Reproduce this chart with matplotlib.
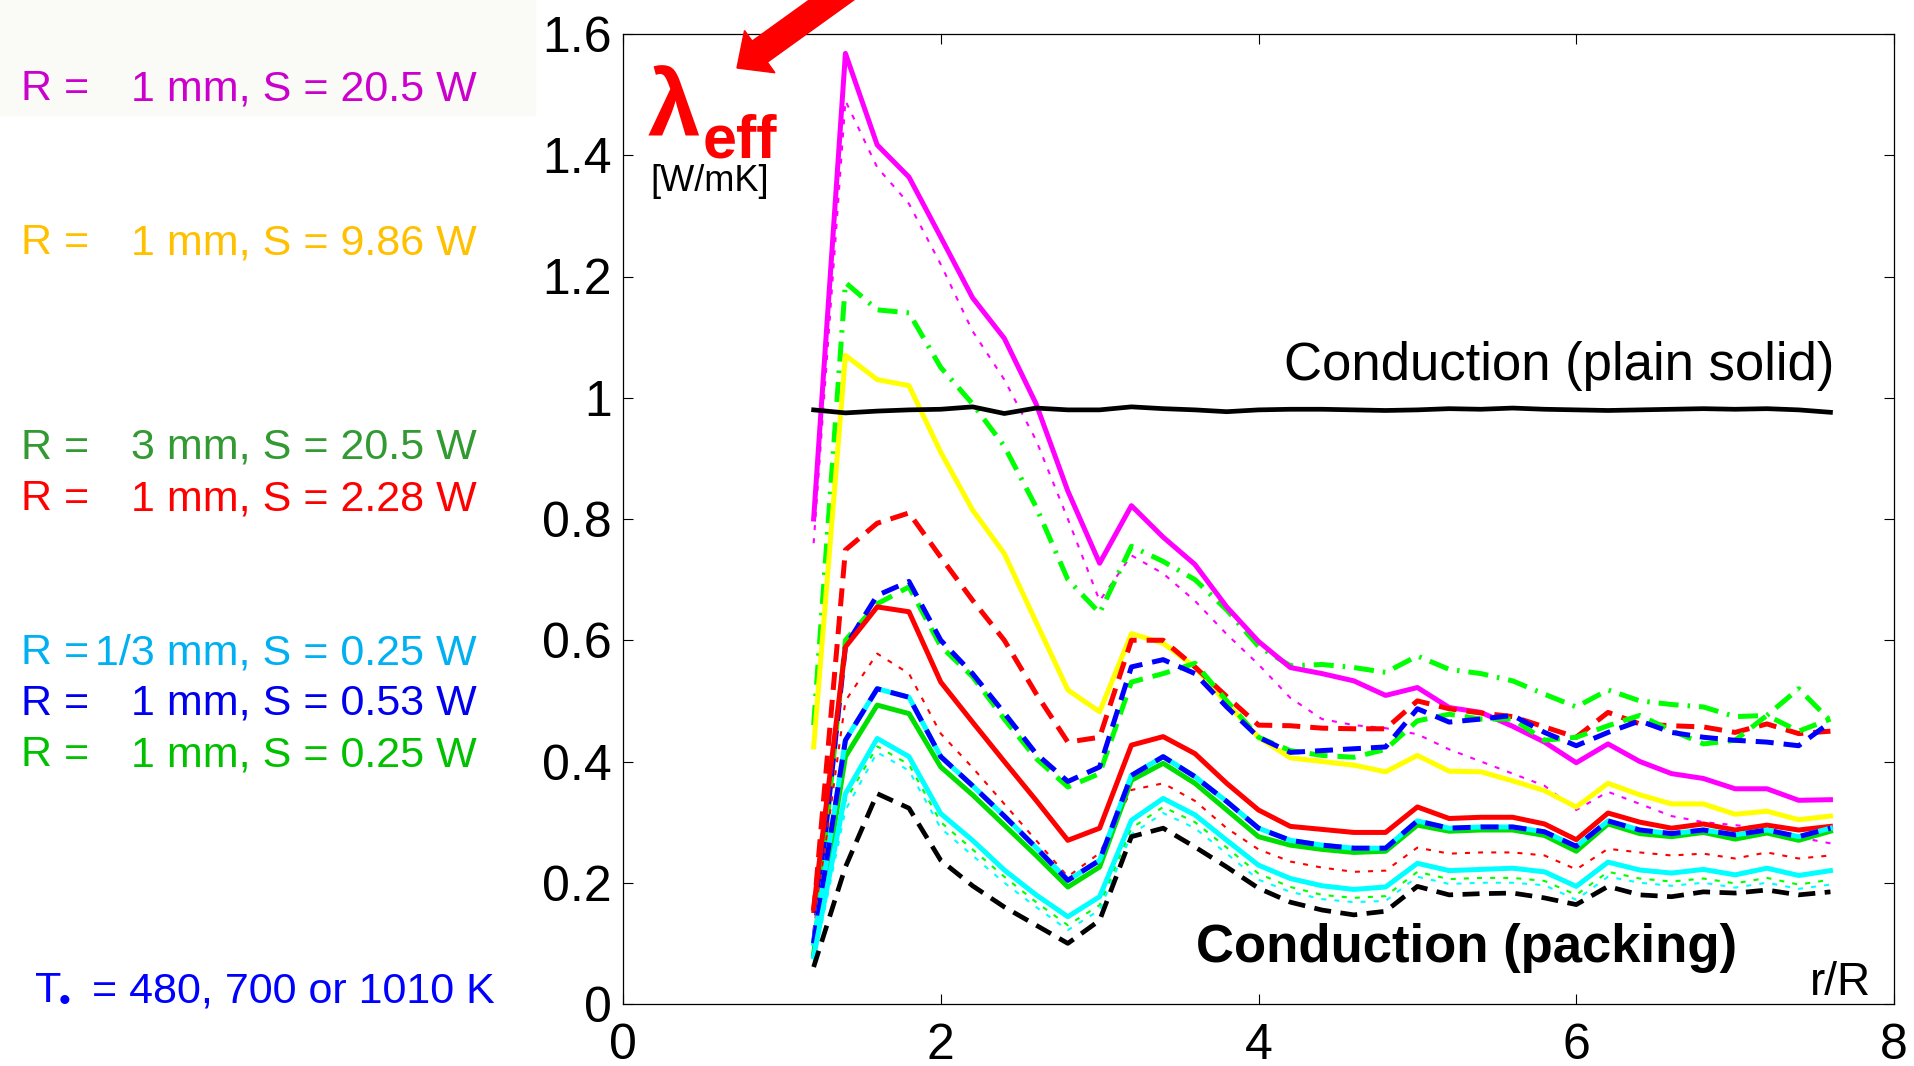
import matplotlib
matplotlib.use('Agg')
import matplotlib.pyplot as plt
from matplotlib.patches import FancyArrow, Rectangle
from matplotlib.transforms import IdentityTransform

plt.rcParams['font.family'] = ['Liberation Sans', 'DejaVu Sans']

W, H = 1915, 1066

# r/R positions of the profile points
r_R = [1.2, 1.4, 1.6, 1.8, 2.0, 2.2, 2.4, 2.6, 2.8, 3.0, 3.2, 3.4, 3.6, 3.8, 4.0, 4.2, 4.4,
       4.6, 4.8, 5.0, 5.2, 5.4, 5.6, 5.8, 6.0, 6.2, 6.4, 6.6, 6.8, 7.0, 7.2, 7.4, 7.6]

plain_solid = [0.980, 0.975, 0.978, 0.980, 0.981, 0.985, 0.974, 0.983, 0.980, 0.980, 0.985, 0.982, 0.980,
               0.977, 0.980, 0.981, 0.981, 0.980, 0.979, 0.980, 0.982, 0.981, 0.983, 0.981, 0.980, 0.979,
               0.980, 0.981, 0.982, 0.981, 0.982, 0.980, 0.976]
magenta_solid = [0.80, 1.568, 1.417, 1.364, 1.265, 1.165, 1.098, 0.99, 0.846, 0.727, 0.822, 0.77, 0.725,
                 0.655, 0.598, 0.555, 0.545, 0.533, 0.509, 0.522, 0.489, 0.481, 0.458, 0.432, 0.398, 0.429,
                 0.40, 0.38, 0.372, 0.355, 0.355, 0.336, 0.337]
magenta_dot = [0.76, 1.49, 1.38, 1.32, 1.22, 1.11, 1.03, 0.93, 0.80, 0.665, 0.74, 0.71, 0.665, 0.61, 0.56,
               0.505, 0.47, 0.46, 0.455, 0.445, 0.42, 0.40, 0.38, 0.36, 0.32, 0.35, 0.33, 0.31, 0.30, 0.295,
               0.29, 0.275, 0.265]
yellow_solid = [0.424, 1.07, 1.03, 1.02, 0.91, 0.815, 0.743, 0.63, 0.518, 0.482, 0.611, 0.595, 0.556, 0.496,
                0.44, 0.406, 0.40, 0.394, 0.383, 0.41, 0.384, 0.383, 0.368, 0.352, 0.325, 0.364, 0.345, 0.33,
                0.33, 0.313, 0.318, 0.304, 0.31]
green_dashdot = [0.46, 1.19, 1.145, 1.14, 1.05, 0.99, 0.92, 0.82, 0.70, 0.645, 0.755, 0.73, 0.70, 0.65, 0.59,
                 0.558, 0.56, 0.555, 0.547, 0.574, 0.552, 0.545, 0.533, 0.511, 0.49, 0.518, 0.50, 0.494, 0.49,
                 0.474, 0.476, 0.52, 0.467]
red_dash = [0.15, 0.749, 0.793, 0.81, 0.737, 0.666, 0.60, 0.512, 0.432, 0.44, 0.60, 0.60, 0.556, 0.507, 0.46,
            0.459, 0.455, 0.454, 0.454, 0.50, 0.487, 0.48, 0.474, 0.457, 0.44, 0.481, 0.462, 0.459, 0.457,
            0.448, 0.462, 0.446, 0.45]
blue_dash_hi = [0.10, 0.59, 0.674, 0.697, 0.60, 0.545, 0.48, 0.413, 0.367, 0.391, 0.556, 0.568, 0.545, 0.49,
                0.44, 0.415, 0.418, 0.421, 0.424, 0.487, 0.465, 0.47, 0.476, 0.448, 0.426, 0.448, 0.467, 0.448,
                0.44, 0.435, 0.432, 0.426, 0.465]
green_dash_hi = [0.08, 0.60, 0.66, 0.688, 0.59, 0.54, 0.47, 0.405, 0.358, 0.38, 0.531, 0.545, 0.562, 0.50,
                 0.44, 0.418, 0.41, 0.407, 0.42, 0.467, 0.478, 0.47, 0.47, 0.435, 0.44, 0.459, 0.476, 0.451,
                 0.429, 0.435, 0.476, 0.45, 0.47]
red_solid = [0.158, 0.589, 0.655, 0.647, 0.531, 0.465, 0.40, 0.336, 0.27, 0.29, 0.427, 0.441, 0.413, 0.364,
             0.32, 0.293, 0.288, 0.283, 0.283, 0.325, 0.306, 0.308, 0.308, 0.297, 0.271, 0.315, 0.30, 0.29,
             0.297, 0.287, 0.295, 0.287, 0.293]
red_dot = [0.12, 0.50, 0.578, 0.545, 0.446, 0.39, 0.33, 0.27, 0.21, 0.249, 0.353, 0.364, 0.335, 0.29, 0.255,
           0.235, 0.225, 0.218, 0.22, 0.258, 0.248, 0.25, 0.25, 0.245, 0.222, 0.256, 0.25, 0.245, 0.248, 0.24,
           0.25, 0.24, 0.245]
green_solid = [0.08, 0.408, 0.493, 0.479, 0.391, 0.345, 0.295, 0.245, 0.193, 0.226, 0.369, 0.397, 0.364, 0.32,
               0.276, 0.262, 0.255, 0.25, 0.252, 0.295, 0.285, 0.287, 0.287, 0.278, 0.252, 0.297, 0.281, 0.276,
               0.283, 0.272, 0.282, 0.27, 0.285]
cyan_solid_hi = [0.10, 0.435, 0.52, 0.506, 0.408, 0.36, 0.31, 0.258, 0.204, 0.237, 0.377, 0.408, 0.375, 0.334,
                 0.29, 0.27, 0.262, 0.257, 0.257, 0.302, 0.29, 0.292, 0.292, 0.284, 0.26, 0.302, 0.287, 0.281,
                 0.287, 0.279, 0.287, 0.276, 0.29]
blue_dash_lo = [0.10, 0.435, 0.52, 0.506, 0.408, 0.36, 0.31, 0.258, 0.204, 0.237, 0.377, 0.408, 0.375, 0.334,
                0.29, 0.27, 0.262, 0.257, 0.257, 0.302, 0.29, 0.292, 0.292, 0.284, 0.26, 0.302, 0.287, 0.281,
                0.287, 0.279, 0.287, 0.276, 0.29]
cyan_solid_lo = [0.078, 0.347, 0.438, 0.408, 0.314, 0.27, 0.221, 0.18, 0.144, 0.177, 0.303, 0.339, 0.312, 0.27,
                 0.229, 0.207, 0.195, 0.189, 0.193, 0.232, 0.22, 0.222, 0.224, 0.218, 0.194, 0.234, 0.221, 0.216,
                 0.222, 0.213, 0.224, 0.212, 0.22]
cyan_dot = [0.07, 0.32, 0.415, 0.385, 0.29, 0.245, 0.20, 0.16, 0.122, 0.155, 0.28, 0.315, 0.29, 0.248, 0.205,
            0.185, 0.173, 0.168, 0.17, 0.21, 0.198, 0.20, 0.20, 0.196, 0.172, 0.21, 0.20, 0.195, 0.20, 0.192,
            0.20, 0.19, 0.197]
green_dot = [0.075, 0.335, 0.425, 0.395, 0.30, 0.255, 0.21, 0.168, 0.13, 0.163, 0.29, 0.325, 0.30, 0.258,
             0.215, 0.193, 0.18, 0.175, 0.178, 0.218, 0.206, 0.208, 0.208, 0.203, 0.18, 0.218, 0.207, 0.202,
             0.207, 0.199, 0.208, 0.197, 0.205]
black_dash = [0.061, 0.226, 0.347, 0.323, 0.237, 0.195, 0.16, 0.13, 0.10, 0.138, 0.276, 0.29, 0.259, 0.226,
              0.191, 0.168, 0.155, 0.147, 0.153, 0.194, 0.18, 0.182, 0.183, 0.175, 0.164, 0.194, 0.18, 0.177,
              0.185, 0.183, 0.188, 0.18, 0.185]

legend_left = ['R =', 'R =', 'R =', 'R =', 'R =', 'R =', 'R =']
legend_right = ['1 mm, S = 20.5 W', '1 mm, S = 9.86 W', '3 mm, S = 20.5 W', '1 mm, S = 2.28 W',
                '1/3 mm, S = 0.25 W', '1 mm, S = 0.53 W', '1 mm, S = 0.25 W']
legend_colors = ['#CC00CC', '#FFC000', '#339933', '#FF0000', '#00B0F0', '#0000EE', '#00C000']
legend_base = [100, 254, 459, 510, 664, 715, 766]

xticks = [0, 2, 4, 6, 8]
yticks = [0, 0.2, 0.4, 0.6, 0.8, 1.0, 1.2, 1.4, 1.6]
ytick_labels = ['0', '0.2', '0.4', '0.6', '0.8', '1', '1.2', '1.4', '1.6']

DOT = (0, (2.4, 3.9))
DASH = (0, (3.6, 2.0))
DASHDOT = (0, (4.0, 1.8, 0.5, 1.8))

fig = plt.figure(figsize=(W / 100, H / 100), dpi=100)
fig.patches.append(Rectangle((0, 1 - 115 / H), 535 / W, 115 / H, transform=fig.transFigure,
                             color='#fafaf7', zorder=0))

ax = fig.add_axes([623 / W, 62 / H, 1271 / W, 970 / H])

# upper group
ax.plot(r_R, magenta_dot, color='#FF00FF', lw=1.5, ls=DOT)
ax.plot(r_R, green_dashdot, color='#00FF00', lw=3.6, ls=DASHDOT)
ax.plot(r_R, yellow_solid, color='#FFFF00', lw=3.6)
ax.plot(r_R, magenta_solid, color='#FF00FF', lw=3.6)
ax.plot(r_R, red_dash, color='#FF0000', lw=3.6, ls=DASH)
ax.plot(r_R, green_dash_hi, color='#00FF00', lw=3.6, ls=DASH)
ax.plot(r_R, blue_dash_hi, color='#0000FF', lw=3.6, ls=DASH)
# lower group
ax.plot(r_R, red_solid, color='#FF0000', lw=3.6)
ax.plot(r_R, red_dot, color='#FF0000', lw=1.5, ls=DOT)
ax.plot(r_R, green_solid, color='#00E000', lw=3.6)
ax.plot(r_R, cyan_solid_hi, color='#00FFFF', lw=3.6)
ax.plot(r_R, blue_dash_lo, color='#0000FF', lw=3.6, ls=DASH)
ax.plot(r_R, green_dot, color='#00FF00', lw=1.5, ls=DOT)
ax.plot(r_R, cyan_dot, color='#00FFFF', lw=1.5, ls=DOT)
ax.plot(r_R, cyan_solid_lo, color='#00FFFF', lw=3.6)
ax.plot(r_R, black_dash, color='black', lw=3.4, ls=DASH)
ax.plot(r_R, plain_solid, color='black', lw=3.4)

ax.set_xlim(0, 8)
ax.set_ylim(0, 1.6)
ax.set_xticks(xticks)
ax.set_xticklabels([str(t) for t in xticks])
ax.set_yticks(yticks)
ax.set_yticklabels(ytick_labels)
ax.tick_params(direction='in', length=7, width=0.8, top=True, right=True, labelsize=36)
ax.tick_params(axis='x', pad=14)
ax.tick_params(axis='y', pad=8)
for s in ax.spines.values():
    s.set_linewidth(0.9)

ax.text(1834 / W, 1 - 380 / H, 'Conduction (plain solid)', transform=fig.transFigure,
        ha='right', va='baseline', fontsize=38)
ax.text(1737 / W, 1 - 962 / H, 'Conduction (packing)', transform=fig.transFigure,
        ha='right', va='baseline', fontsize=38, fontweight='bold')
ax.text(1871 / W, 1 - 995 / H, 'r/R', transform=fig.transFigure,
        ha='right', va='baseline', fontsize=33)

# y label
fig.text(648 / W, 1 - 137 / H, '\u03bb', color='#FF0000', fontsize=68, fontweight='bold',
         ha='left', va='baseline')
fig.text(703 / W, 1 - 157 / H, 'eff', color='#FF0000', fontsize=44, fontweight='bold',
         ha='left', va='baseline')
fig.text(650 / W, 1 - 191 / H, '[W/mK]', color='black', fontsize=26, ha='left', va='baseline')

# red arrow pointing at the label (pixel coordinates)
arrow = FancyArrow(883, H + 37, 737 - 883, (H - 68) - (H + 37),
                   width=26, head_width=52, head_length=28, length_includes_head=True,
                   color='#FF0000', transform=IdentityTransform())
fig.patches.append(arrow)

# left legend
for lt, rt, c, b in zip(legend_left, legend_right, legend_colors, legend_base):
    fig.text(21 / W, 1 - b / H, lt, color=c, fontsize=31, ha='left', va='baseline')
    fig.text(477 / W, 1 - b / H, rt, color=c, fontsize=31, ha='right', va='baseline')

fig.text(35 / W, 1 - 1002 / H, 'T', color='#0000FF', fontsize=31, ha='left', va='baseline')
fig.text(59 / W, 1 - 1011 / H, '\u2022', color='#0000FF', fontsize=24, ha='left', va='baseline')
fig.text(92 / W, 1 - 1002 / H, '= 480, 700 or 1010 K', color='#0000FF', fontsize=31,
         ha='left', va='baseline')

fig.savefig('out.png', dpi=100)
